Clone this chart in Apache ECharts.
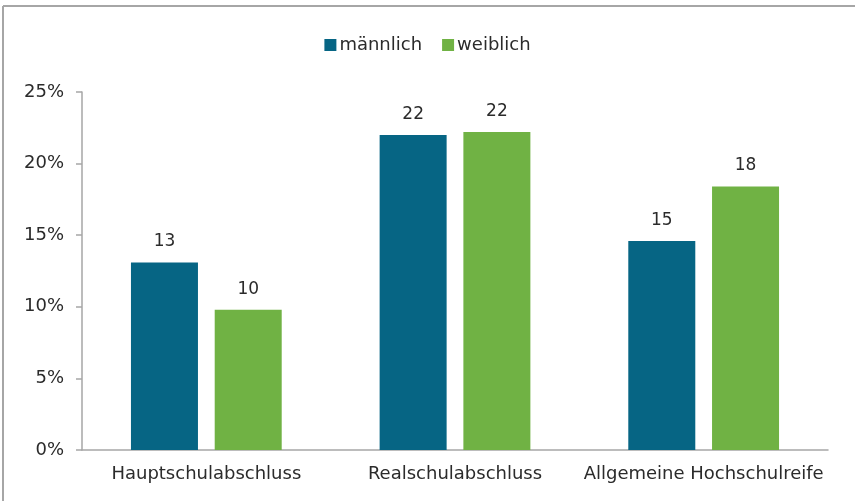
<!DOCTYPE html>
<html>
<head>
<meta charset="utf-8">
<script src="https://cdn.jsdelivr.net/npm/echarts@6/dist/echarts.min.js"></script>
<style>
  html, body { margin: 0; padding: 0; background: #fff; }
  #chart { width: 855px; height: 501px; }
</style>
</head>
<body>
<div id="chart"></div>
<script>
const categories = ['Hauptschulabschluss', 'Realschulabschluss', 'Allgemeine Hochschulreife']
const seriesNames = ['männlich', 'weiblich']
const maleValues = [13.1, 22.0, 14.6]
const femaleValues = [9.8, 22.2, 18.4]
const yTicks = [0, 5, 10, 15, 20, 25]

const colors = ['#066584', '#70b244']
const textColor = '#2b2b2b'
const fontFamily = '"DejaVu Sans", "Noto Sans", sans-serif'

const chart = echarts.init(document.getElementById('chart'))

function makeSeries(name, data, color) {
  return {
    name,
    type: 'bar',
    data,
    barWidth: 67,
    barGap: '25%',
    itemStyle: { color },
    label: {
      show: true,
      position: 'top',
      distance: 12,
      color: textColor,
      fontFamily,
      fontSize: 17,
      formatter: p => Math.round(p.value)
    }
  }
}

// outer frame: only top and left edges are inside the picture
const frameStyle = { stroke: '#a6a6a6', lineWidth: 2 }

chart.setOption({
  animation: false,
  color: colors,
  graphic: [
    { type: 'line', silent: true, shape: { x1: 3, y1: 6, x2: 855, y2: 6 }, style: frameStyle },
    { type: 'line', silent: true, shape: { x1: 3, y1: 6, x2: 3, y2: 501 }, style: frameStyle }
  ],
  legend: {
    data: seriesNames,
    top: 31,
    left: 'center',
    itemWidth: 12,
    itemHeight: 12,
    itemGap: 20,
    icon: 'rect',
    textStyle: { color: textColor, fontFamily, fontSize: 18, padding: [0, 0, 0, -2] }
  },
  grid: { left: 82, right: 27, top: 92, bottom: 51, containLabel: false },
  xAxis: {
    type: 'category',
    data: categories,
    axisLine: { lineStyle: { color: '#a6a6a6', width: 1.5 } },
    axisTick: { show: false },
    axisLabel: { color: textColor, fontFamily, fontSize: 18, margin: 15, interval: 0 }
  },
  yAxis: {
    type: 'value',
    min: yTicks[0],
    max: yTicks[yTicks.length - 1],
    interval: 5,
    axisLine: { show: true, lineStyle: { color: '#a6a6a6', width: 1.5 } },
    axisTick: { show: true, length: 6, lineStyle: { color: '#a6a6a6', width: 1.5 } },
    splitLine: { show: false },
    axisLabel: { color: textColor, fontFamily, fontSize: 18, margin: 18, formatter: '{value}%' }
  },
  series: [
    makeSeries(seriesNames[0], maleValues, colors[0]),
    makeSeries(seriesNames[1], femaleValues, colors[1])
  ]
})
</script>
</body>
</html>
